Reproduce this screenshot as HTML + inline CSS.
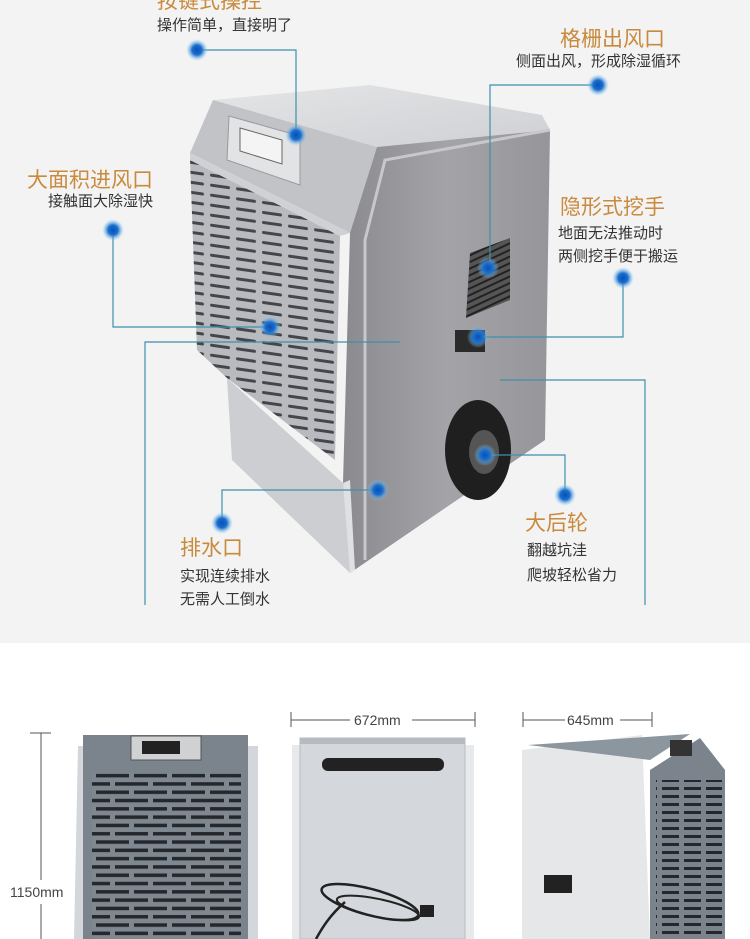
<!DOCTYPE html><html><head><meta charset="utf-8"><style>
body{margin:0;width:750px;height:939px;overflow:hidden;background:#fff;font-family:"Liberation Sans","Noto Sans CJK SC",sans-serif}
.t{position:absolute;color:#c98a3c;font-size:21px;white-space:nowrap;line-height:1}
.s{position:absolute;color:#333;font-size:15px;white-space:nowrap;line-height:1}
</style></head><body>
<div style="position:absolute;left:0;top:0;width:750px;height:643px;background:#f3f3f3"></div>
<svg width="750" height="939" style="position:absolute;left:0;top:0">
<defs>
<radialGradient id="g"><stop offset="0" stop-color="#0a4fb0"/><stop offset=".45" stop-color="#1a6fd0"/><stop offset="1" stop-color="#8fd0f0" stop-opacity="0"/></radialGradient>
<linearGradient id="side" x1="0" x2="1"><stop offset="0" stop-color="#8a8a8f"/><stop offset=".5" stop-color="#a3a3a8"/><stop offset="1" stop-color="#96969a"/></linearGradient>
<linearGradient id="top" x1="0" x2="1" y1="0" y2="1"><stop offset="0" stop-color="#e4e5e7"/><stop offset="1" stop-color="#cfd0d3"/></linearGradient>
<pattern id="gr" width="26" height="10" patternUnits="userSpaceOnUse" patternTransform="skewY(8)"><rect width="26" height="10" fill="#b9babe"/><rect x="2" y="4" width="20" height="3" rx="1.5" fill="#44464c"/></pattern>
<pattern id="gr2" width="38" height="16.6" patternUnits="userSpaceOnUse"><rect width="38" height="16.6" fill="#7f8890"/><rect x="1" y="2" width="33" height="3.5" fill="#24282c"/><rect x="20" y="10.3" width="33" height="3.5" fill="#24282c"/><rect x="-18" y="10.3" width="33" height="3.5" fill="#24282c"/></pattern>
<pattern id="gr3" width="22" height="8" patternUnits="userSpaceOnUse"><rect width="22" height="8" fill="#7b848c"/><rect x="2" y="3" width="17" height="3" fill="#24282c"/></pattern>
<pattern id="vent" width="6" height="6" patternUnits="userSpaceOnUse" patternTransform="rotate(-25)"><rect width="6" height="6" fill="#555"/><rect y="3" width="6" height="2" fill="#222"/></pattern>
</defs>
<polygon points="213,100 370,85 542,115 550,130 377,147" fill="url(#top)"/>
<polygon points="213,100 377,147 350,233 190,153" fill="#c2c3c6"/>
<polygon points="377,147 550,130 545,440 350,573 343,483 350,233" fill="url(#side)"/>
<polyline points="550,130 385,160 365,240 365,560" fill="none" stroke="#c8c8cc" stroke-width="3"/>
<polygon points="190,160 340,236 335,460 227,378 197,350" fill="url(#gr)"/>
<polygon points="190,153 350,233 340,236 190,160" fill="#d0d1d4"/>
<polygon points="227,378 343,483 350,573 232,460" fill="#cdced1"/>
<polygon points="343,483 350,573 355,570 350,480" fill="#e0e0e2"/>
<polygon points="229,116 300,136 300,185 227,160" fill="#e2e3e5" stroke="#9a9a9a"/>
<polygon points="240,128 282,140 282,164 240,151" fill="#f4f4f4" stroke="#666"/>
<polygon points="470,253 510,238 510,300 466,318" fill="url(#vent)"/>
<rect x="455" y="330" width="30" height="22" fill="#2a2a2a"/>
<ellipse cx="478" cy="450" rx="33" ry="50" fill="#1f1f1f"/>
<ellipse cx="484" cy="452" rx="15" ry="22" fill="#555"/>
<g stroke="#3d90aa" stroke-width="1.2" fill="none">
<polyline points="197,50 296,50 296,135"/>
<polyline points="598,85 490,85 490,268"/>
<polyline points="113,230 113,327 270,327"/>
<polyline points="623,278 623,337 478,337"/>
<polyline points="400,342 145,342 145,605"/>
<polyline points="500,380 645,380 645,605"/>
<polyline points="485,455 565,455 565,495"/>
<polyline points="378,490 222,490 222,523"/>
</g>
<g fill="url(#g)">
<circle cx="197" cy="50" r="11"/><circle cx="296" cy="135" r="11"/><circle cx="598" cy="85" r="11"/><circle cx="488" cy="268" r="11"/>
<circle cx="113" cy="230" r="11"/><circle cx="270" cy="327" r="11"/><circle cx="623" cy="278" r="11"/><circle cx="478" cy="337" r="11"/>
<circle cx="485" cy="455" r="11"/><circle cx="565" cy="495" r="11"/><circle cx="378" cy="490" r="11"/><circle cx="222" cy="523" r="11"/>
</g>
<g stroke="#555" stroke-width="1">
<line x1="41" y1="733" x2="41" y2="880"/><line x1="41" y1="904" x2="41" y2="939"/><line x1="30" y1="733" x2="51" y2="733"/>
<line x1="291" y1="720" x2="350" y2="720"/><line x1="412" y1="720" x2="475" y2="720"/><line x1="291" y1="712" x2="291" y2="727"/><line x1="475" y1="712" x2="475" y2="727"/>
<line x1="523" y1="720" x2="565" y2="720"/><line x1="620" y1="720" x2="652" y2="720"/><line x1="523" y1="712" x2="523" y2="727"/><line x1="652" y1="712" x2="652" y2="727"/>
</g>
<text x="10" y="897" font-size="14" fill="#444" font-family="Liberation Sans">1150mm</text>
<text x="354" y="725" font-size="14" fill="#444" font-family="Liberation Sans">672mm</text>
<text x="567" y="725" font-size="14" fill="#444" font-family="Liberation Sans">645mm</text>
<polygon points="78,746 258,746 258,939 74,939" fill="#d3d6da"/>
<rect x="83" y="735" width="165" height="204" fill="#7b848c"/>
<rect x="92" y="773" width="149" height="166" fill="url(#gr2)"/>
<rect x="131" y="736" width="70" height="24" fill="#d0d1d2" stroke="#555"/>
<rect x="142" y="741" width="38" height="13" fill="#222"/>
<rect x="292" y="745" width="182" height="194" fill="#e8e9eb"/>
<rect x="300" y="738" width="165" height="201" fill="#d4d7db" stroke="#b8bbbf"/>
<rect x="300" y="738" width="165" height="6" fill="#b7babe"/>
<rect x="322" y="758" width="122" height="13" rx="6" fill="#222"/>
<ellipse cx="370" cy="902" rx="50" ry="13" fill="none" stroke="#222" stroke-width="2.5" transform="rotate(15 370 902)"/>
<ellipse cx="378" cy="908" rx="42" ry="9" fill="none" stroke="#222" stroke-width="2" transform="rotate(12 378 908)"/>
<path d="M345 902 C330 915,322 928,316 939" stroke="#222" stroke-width="2.5" fill="none"/>
<rect x="420" y="905" width="14" height="12" fill="#222"/>
<polygon points="522,750 642,735 650,939 522,939" fill="#e6e7e9"/>
<polygon points="528,745 690,734 650,760" fill="#8c969e"/>
<polygon points="650,770 700,738 725,770 725,939 650,939" fill="#7b848c"/>
<rect x="656" y="780" width="66" height="159" fill="url(#gr3)"/>
<rect x="670" y="740" width="22" height="16" fill="#333"/>
<rect x="544" y="875" width="28" height="18" fill="#222"/>
</svg>
<div class="t" style="left:157px;top:-9px">按键式操控</div>
<div class="s" style="left:157px;top:18px">操作简单，直接明了</div>
<div class="t" style="left:560px;top:29px">格栅出风口</div>
<div class="s" style="left:516px;top:54px">侧面出风，形成除湿循环</div>
<div class="t" style="left:27px;top:170px">大面积进风口</div>
<div class="s" style="left:48px;top:194px">接触面大除湿快</div>
<div class="t" style="left:560px;top:197px">隐形式挖手</div>
<div class="s" style="left:558px;top:226px">地面无法推动时</div>
<div class="s" style="left:558px;top:249px">两侧挖手便于搬运</div>
<div class="t" style="left:525px;top:513px">大后轮</div>
<div class="s" style="left:527px;top:543px">翻越坑洼</div>
<div class="s" style="left:527px;top:568px">爬坡轻松省力</div>
<div class="t" style="left:180px;top:538px">排水口</div>
<div class="s" style="left:180px;top:569px">实现连续排水</div>
<div class="s" style="left:180px;top:592px">无需人工倒水</div>
</body></html>
